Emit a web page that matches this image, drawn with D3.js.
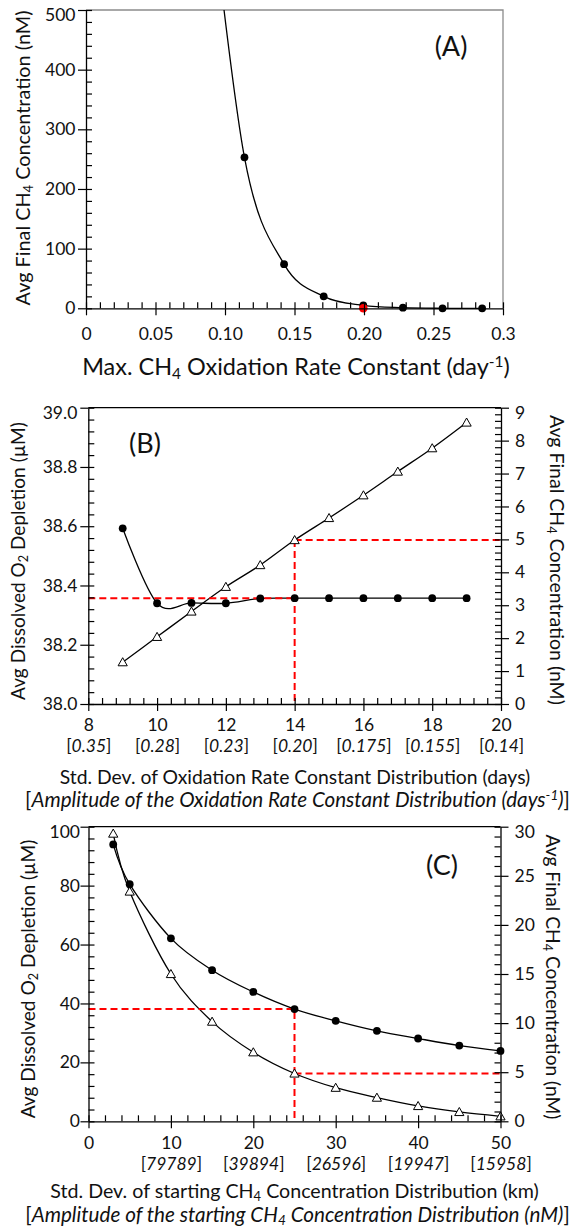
<!DOCTYPE html>
<html>
<head>
<meta charset="utf-8">
<script src="https://cdn.jsdelivr.net/npm/d3@7/dist/d3.min.js"></script>
<style>
  body { margin: 0; background: #fff; }
  svg text { font-family: Lato, "Open Sans", sans-serif; fill: #111; }
</style>
</head>
<body>
<div class="chart"></div>
<script>
// DATA *******************************************************************
// Panel A: max CH4 oxidation rate constant vs avg final CH4
var rateA = [0.0855, 0.114, 0.1425, 0.171, 0.1995, 0.228, 0.2565, 0.285];
var ch4A  = [780, 253, 74, 20, 5, 1, 0, 0];
var pickRateA = 0.1995, pickCh4A = 0;
var xTicksA  = [0, 0.05, 0.10, 0.15, 0.20, 0.25, 0.3];
var xLabelsA = ['0', '0.05', '0.10', '0.15', '0.20', '0.25', '0.3'];
var yTicksA  = [0, 100, 200, 300, 400, 500];

// Panel B: std. dev. of oxidation rate constant distribution
var sdB  = [9, 10, 11, 12, 13, 14, 15, 16, 17, 18, 19];
var o2B  = [38.593, 38.340, 38.341, 38.340, 38.356, 38.357, 38.357, 38.357, 38.357, 38.357, 38.357];
var ch4B = [1.27, 2.04, 2.81, 3.56, 4.22, 4.98, 5.65, 6.34, 7.06, 7.77, 8.55];
var pickSdB = 14, pickO2B = 38.357, pickCh4B = 4.98;
var xTicksB   = [8, 10, 12, 14, 16, 18, 20];
var ampLabelsB = ['0.35', '0.28', '0.23', '0.20', '0.175', '0.155', '0.14'];
var yTicksB   = [38.0, 38.2, 38.4, 38.6, 38.8, 39.0];
var y2TicksB  = [0, 1, 2, 3, 4, 5, 6, 7, 8, 9];

// Panel C: std. dev. of starting CH4 concentration distribution
var sdC  = [3, 5, 10, 15, 20, 25, 30, 35, 40, 45, 50];
var o2C  = [94.0, 80.5, 62.1, 51.3, 43.9, 38.1, 34.1, 30.7, 28.1, 25.7, 23.9];
var ch4C = [29.3, 23.4, 15.0, 10.15, 7.03, 4.87, 3.42, 2.41, 1.56, 0.95, 0.51];
var pickSdC = 25, pickO2C = 38.1, pickCh4C = 4.87;
var xTicksC   = [0, 10, 20, 30, 40, 50];
var ampLabelsC = ['', '79789', '39894', '26596', '19947', '15958'];
var yTicksC   = [0, 20, 40, 60, 80, 100];
var y2TicksC  = [0, 5, 10, 15, 20, 25, 30];


// SETUP ******************************************************************
var svg = d3.select('.chart').append('svg')
            .attr('width', 572)
            .attr('height', 1232);

var TICK_FS = 17.5;
var RED = '#ff0000';
var line = d3.line().curve(d3.curveCardinal.tension(0));
var triPath = 'M0,-4.5L4.6,3.6L-4.6,3.6Z';

// add tspans (italic / sub / sup parts) to a text element
function addParts(t, parts, size, x, y) {
    parts.forEach(function(p, k) {
        var small = p.sub || p.sup;
        var s = t.append('tspan').text(p.t).attr('font-size', small ? size * 0.66 : size);
        if (k === 0 && x !== undefined) s.attr('x', x).attr('y', y);
        if (p.it) s.attr('font-style', 'italic');
        if (p.sub) s.attr('baseline-shift', -size * 0.15);
        if (p.sup) s.attr('baseline-shift', size * 0.36);
    });
}
function richText(parent, parts, size) {
    var t = parent.append('text');
    addParts(t, parts, size);
    return t;
}
// font size so that the parts span a given width
function sizeFor(parent, parts, width) {
    var probe = richText(parent, parts, 20);
    var w = probe.node().getComputedTextLength();
    probe.remove();
    return 20 * width / w;
}
function fittedText(parent, parts, width) {
    return richText(parent, parts, sizeFor(parent, parts, width));
}
// one text element, several centred lines
function multiLine(parent, lines) {
    var t = parent.append('text').attr('text-anchor', 'middle');
    lines.forEach(function(L) {
        addParts(t, L.parts, sizeFor(parent, L.parts, L.width), L.x, L.y);
    });
    return t;
}

function styleAxis(sel) {
    sel.attr('font-family', null).attr('font-size', TICK_FS).attr('color', '#000');
    sel.selectAll('line').attr('stroke-width', 1.2);
    sel.select('.domain').attr('stroke-width', 1.3);
}

// y axis: majors cross the axis, minors point inward
function yAxis(g, scale, at, side, majors, minors, fmt, pad) {
    var inward = side === 'left' ? d3.axisRight(scale) : d3.axisLeft(scale);
    var outward = side === 'left' ? d3.axisLeft(scale) : d3.axisRight(scale);
    var top = d3.max(majors);
    g.append('g').attr('transform', 'translate(' + at + ',0)')
        .call(inward.tickValues(majors.concat(minors)).tickSize(6).tickFormat(''))
        .call(function(s) { s.select('.domain').remove(); styleAxis(s); });
    g.append('g').attr('transform', 'translate(' + at + ',0)')
        .call(outward.tickValues(majors).tickSizeInner(8).tickSizeOuter(0).tickPadding(pad).tickFormat(fmt))
        .call(styleAxis)
        // top label sits a little below its tick
        .selectAll('.tick text').filter(function(d) { return d === top; }).attr('y', 5);
}

function xAxis(g, scale, at, majors, minors, fmt, pad, amps, gap) {
    g.append('g').attr('transform', 'translate(0,' + at + ')')
        .call(d3.axisTop(scale).tickValues(majors.concat(minors)).tickSize(6).tickFormat(''))
        .call(function(s) { s.select('.domain').remove(); styleAxis(s); });
    var ax = g.append('g').attr('transform', 'translate(0,' + at + ')')
        .call(d3.axisBottom(scale).tickValues(majors).tickSizeInner(7).tickSizeOuter(0).tickPadding(pad).tickFormat(fmt))
        .call(styleAxis);
    if (!amps) return;
    // second line of each label: [italic amplitude]
    ax.selectAll('.tick text').each(function(d, i) {
        if (!amps[i]) return;
        var t = d3.select(this);
        t.append('tspan').attr('x', 0).attr('dy', gap).text('[');
        t.append('tspan').attr('font-style', 'italic').text(amps[i]);
        t.append('tspan').text(']');
    });
}

function minorsOf(lo, hi, step, majors) {
    return d3.range(lo, hi + step / 2, step).filter(function(v) {
        return !majors.some(function(m) { return Math.abs(m - v) < step / 10; });
    });
}

function dashed(g, pts) {
    g.append('path')
        .attr('d', d3.line()(pts))
        .attr('fill', 'none')
        .attr('stroke', RED)
        .attr('stroke-width', 2)
        .attr('stroke-dasharray', '7,4');
}

function series(g, xs, ys, x, y) {
    var pts = xs.map(function(v, i) { return [x(v), y(ys[i])]; });
    g.append('path')
        .attr('d', line(pts))
        .attr('fill', 'none')
        .attr('stroke', '#000')
        .attr('stroke-width', 1.3);
    return pts;
}

function dots(g, pts) {
    g.selectAll(null).data(pts).enter().append('circle')
        .attr('cx', function(d) { return d[0]; })
        .attr('cy', function(d) { return d[1]; })
        .attr('r', 3.9)
        .attr('fill', '#000');
}

function tris(g, pts) {
    g.selectAll(null).data(pts).enter().append('path')
        .attr('d', triPath)
        .attr('transform', function(d) { return 'translate(' + d[0] + ',' + d[1] + ')'; })
        .attr('fill', '#fff')
        .attr('stroke', '#000')
        .attr('stroke-width', 1);
}


// PANEL A ****************************************************************
(function() {
    var g = svg.append('g');
    var x = d3.scaleLinear().domain([0, 0.3]).range([86, 503]);
    var y = d3.scaleLinear().domain([0, 500]).range([308.3, 10]);

    // frame (grey top and right)
    g.append('path')
        .attr('d', d3.line()([[x(0), y(500)], [x(0.3), y(500)], [x(0.3), y(0)]]))
        .attr('fill', 'none').attr('stroke', '#8c8c8c').attr('stroke-width', 1.3);

    g.append('clipPath').attr('id', 'clipA').append('rect')
        .attr('x', x(0) - 10).attr('y', y(500))
        .attr('width', x(0.3) - x(0) + 20).attr('height', y(0) - y(500) + 10);

    var plot = g.append('g').attr('clip-path', 'url(#clipA)');
    var pts = series(plot, rateA, ch4A, x, y);
    dots(plot, pts);
    plot.append('circle')
        .attr('cx', x(pickRateA)).attr('cy', y(pickCh4A))
        .attr('r', 4.3).attr('fill', RED);

    yAxis(g, y, x(0), 'left', yTicksA, minorsOf(0, 500, 20, yTicksA), d3.format('d'), 2.5);
    xAxis(g, x, y(0), xTicksA, minorsOf(0, 0.3, 0.01, xTicksA),
          function(d, i) { return xLabelsA[i]; }, 12);

    richText(g, [{t: '(A)'}], 27).attr('x', 451).attr('y', 56).attr('text-anchor', 'middle');

    fittedText(g, [{t: 'Max. CH'}, {t: '4', sub: true}, {t: ' Oxidation Rate Constant (day'}, {t: '-1', sup: true}, {t: ')'}], 428)
        .attr('x', 296).attr('y', 375).attr('text-anchor', 'middle');

    fittedText(g, [{t: 'Avg Final CH'}, {t: '4', sub: true}, {t: ' Concentration (nM)'}], 295)
        .attr('text-anchor', 'middle')
        .attr('transform', 'translate(30,158) rotate(-90)');
})();


// PANEL B ****************************************************************
(function() {
    var g = svg.append('g');
    var x = d3.scaleLinear().domain([8, 20]).range([88.3, 501]);
    var y = d3.scaleLinear().domain([38.0, 39.0]).range([704, 407.7]);
    var y2 = d3.scaleLinear().domain([0, 9]).range([704, 407.7]);

    g.append('line')
        .attr('x1', x(8)).attr('x2', x(20)).attr('y1', y(39)).attr('y2', y(39))
        .attr('stroke', '#000').attr('stroke-width', 1.3);

    var pO2 = series(g, sdB, o2B, x, y);
    var pCh4 = series(g, sdB, ch4B, x, y2);

    dashed(g, [[x(8), y(pickO2B)], [x(pickSdB), y(pickO2B)]]);
    dashed(g, [[x(pickSdB), y2(pickCh4B)], [x(pickSdB), y(38.0)]]);
    dashed(g, [[x(pickSdB), y2(pickCh4B)], [x(20), y2(pickCh4B)]]);

    dots(g, pO2);
    tris(g, pCh4);

    yAxis(g, y, x(8), 'left', yTicksB, minorsOf(38.0, 39.0, 0.04, yTicksB), d3.format('.1f'), 3);
    yAxis(g, y2, x(20), 'right', y2TicksB, minorsOf(0, 9, 0.2, y2TicksB), d3.format('d'), 6);
    xAxis(g, x, y(38.0), xTicksB, minorsOf(8, 20, 0.4, xTicksB), d3.format('d'), 7.5, ampLabelsB, 21.5);

    richText(g, [{t: '(B)'}], 27).attr('x', 145).attr('y', 453).attr('text-anchor', 'middle');

    multiLine(g, [
        {parts: [{t: 'Std. Dev. of Oxidation Rate Constant Distribution (days)'}],
         width: 471, x: 295, y: 784},
        {parts: [{t: '['}, {t: 'Amplitude of the Oxidation Rate Constant Distribution (days', it: true},
                 {t: '-1', sup: true, it: true}, {t: ')', it: true}, {t: ']'}],
         width: 545, x: 297.5, y: 807}
    ]);

    fittedText(g, [{t: 'Avg Dissolved O'}, {t: '2', sub: true}, {t: ' Depletion (\u00b5M)'}], 278)
        .attr('text-anchor', 'middle')
        .attr('transform', 'translate(25,561) rotate(-90)');
    fittedText(g, [{t: 'Avg Final CH'}, {t: '4', sub: true}, {t: ' Concentration (nM)'}], 290)
        .attr('text-anchor', 'middle')
        .attr('transform', 'translate(550,560) rotate(90)');
})();


// PANEL C ****************************************************************
(function() {
    var g = svg.append('g');
    var x = d3.scaleLinear().domain([0, 50]).range([88.5, 500.5]);
    var y = d3.scaleLinear().domain([0, 100]).range([1121.3, 826.7]);
    var y2 = d3.scaleLinear().domain([0, 30]).range([1121.3, 826.7]);

    g.append('line')
        .attr('x1', x(0)).attr('x2', x(50)).attr('y1', y(100)).attr('y2', y(100))
        .attr('stroke', '#000').attr('stroke-width', 1.3);

    var pO2 = series(g, sdC, o2C, x, y);
    var pCh4 = series(g, sdC, ch4C, x, y2);

    dashed(g, [[x(0), y(pickO2C)], [x(pickSdC), y(pickO2C)], [x(pickSdC), y(0)]]);
    dashed(g, [[x(pickSdC), y2(pickCh4C)], [x(50), y2(pickCh4C)]]);

    dots(g, pO2);
    tris(g, pCh4);

    yAxis(g, y, x(0), 'left', yTicksC, minorsOf(0, 100, 4, yTicksC), d3.format('d'), 0.5);
    yAxis(g, y2, x(50), 'right', y2TicksC, minorsOf(0, 30, 1, y2TicksC), d3.format('d'), 6);
    xAxis(g, x, y(0), xTicksC, minorsOf(0, 50, 2, xTicksC), d3.format('d'), 8, ampLabelsC, 21.5);

    richText(g, [{t: '(C)'}], 27).attr('x', 442).attr('y', 875).attr('text-anchor', 'middle');

    multiLine(g, [
        {parts: [{t: 'Std. Dev. of starting CH'}, {t: '4', sub: true}, {t: ' Concentration Distribution (km)'}],
         width: 489, x: 294.5, y: 1197.5},
        {parts: [{t: '['}, {t: 'Amplitude of the starting CH', it: true}, {t: '4', sub: true, it: true},
                 {t: ' Concentration Distribution (nM)', it: true}, {t: ']'}],
         width: 545, x: 297.5, y: 1221.5}
    ]);

    fittedText(g, [{t: 'Avg Dissolved O'}, {t: '2', sub: true}, {t: ' Depletion (\u00b5M)'}], 279)
        .attr('text-anchor', 'middle')
        .attr('transform', 'translate(35,979) rotate(-90)');
    fittedText(g, [{t: 'Avg Final CH'}, {t: '4', sub: true}, {t: ' Concentration (nM)'}], 285)
        .attr('text-anchor', 'middle')
        .attr('transform', 'translate(546,977) rotate(90)');
})();
</script>
</body>
</html>
